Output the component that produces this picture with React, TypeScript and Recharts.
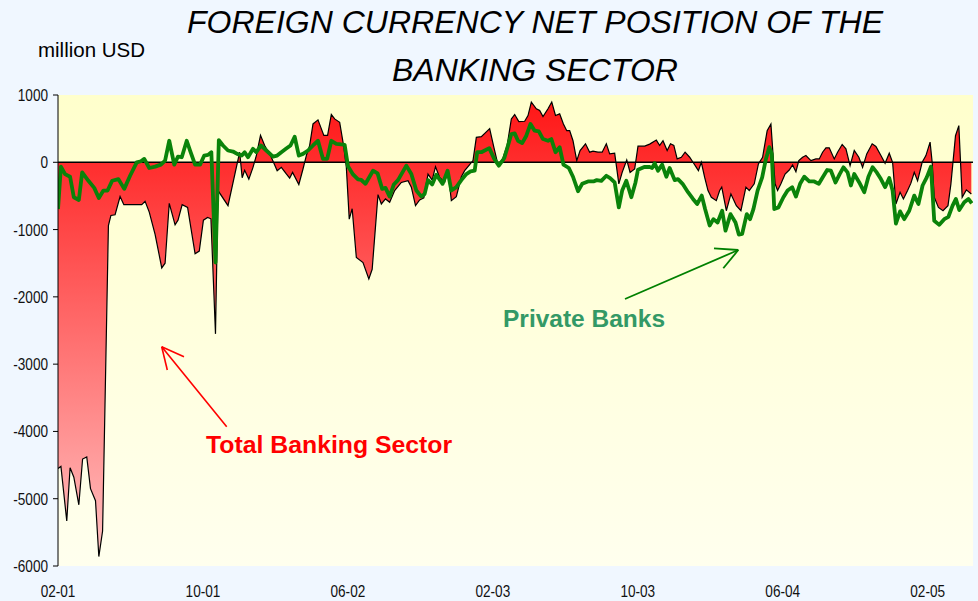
import React from "react";
import {
    ComposedChart,
    Area,
    Line,
    XAxis,
    YAxis,
    CartesianGrid,
    ReferenceLine,
} from "recharts";

// x values are weeks counted from the start of Feb 2001
const tickWeeks = [0, 34.79, 69.57, 104.36, 139.15, 173.93, 208.72];
const tickLabels = ["02-01", "10-01", "06-02", "02-03", "10-03", "06-04", "02-05"];
const yTicks = [1000, 0, -1000, -2000, -3000, -4000, -5000, -6000];

// Total banking sector (million USD)
const totalWeeks = [
    0, 0.7, 2.1, 2.9, 3.8, 5.0, 5.9, 6.9, 7.8, 9.0, 9.8, 10.7, 12.1, 12.7, 13.7, 14.9, 15.8, 20.1, 20.9, 21.9,
    23.3, 24.9, 25.7, 26.7, 28.1, 28.8, 29.8, 31.1, 32.9, 33.9, 34.9, 35.9, 36.7, 37.8, 38.4, 40.8, 43.6, 44.2, 44.8, 45.8,
    46.8, 47.6, 48.6, 49.6, 51.2, 52.6, 53.6, 54.7, 55.6, 56.3, 57.8, 58.8, 59.6, 60.4, 61.2, 62.4, 63.8, 64.7, 65.6, 66.4,
    67.6, 68.6, 69.2, 69.9, 70.6, 71.6, 73.2, 74.6, 75.4, 76.8, 77.6, 78.6, 79.6, 80.8, 82.4, 84.0, 84.8, 85.8, 86.8, 87.8,
    88.8, 89.8, 90.6, 91.6, 92.8, 93.6, 94.4, 95.6, 96.8, 97.6, 98.8, 99.6, 100.4, 101.6, 103.6, 104.6, 105.6, 106.7, 107.8, 108.8,
    109.6, 110.6, 112.0, 112.8, 113.6, 114.8, 115.6, 116.4, 117.6, 118.5, 119.4, 120.4, 121.3, 122.1, 122.8, 123.6, 124.5, 125.3, 126.6, 127.6,
    128.4, 129.6, 130.6, 131.6, 132.4, 133.6, 134.6, 135.4, 136.5, 137.3, 138.4, 139.2, 140.8, 142.0, 143.6, 144.4, 145.2, 146.2, 147.0, 147.8,
    148.6, 149.6, 150.5, 151.6, 152.4, 153.2, 153.7, 154.4, 155.2, 156.0, 156.8, 158.0, 158.8, 159.3, 160.4, 161.5, 162.8, 163.9, 165.1, 165.9,
    167.1, 168.1, 169.1, 170.2, 171.1, 172.1, 172.7, 173.5, 174.5, 175.5, 176.3, 177.1, 177.8, 178.7, 179.5, 180.7, 181.9, 182.7, 183.5, 184.3,
    185.1, 186.3, 187.1, 188.2, 189.1, 190.1, 191.1, 192.2, 193.1, 194.1, 195.4, 196.3, 197.5, 198.5, 199.5, 200.3, 201.1, 202.1, 202.9, 203.9,
    204.7, 205.5, 206.3, 207.4, 208.3, 209.3, 209.8, 210.3, 211.3, 212.4, 213.6, 214.3, 215.4, 216.2, 217.0, 218.0, 219.2,
];
const totalValues = [
    -4550, -4520, -5330, -4540, -4680, -5090, -4410, -4380, -4850, -5030, -5860, -5480, -940, -790, -780, -510, -630, -630, -580, -740,
    -1070, -1570, -1500, -610, -930, -860, -630, -670, -1360, -1320, -860, -820, -840, -2550, -420, -645, 150, -230, -120, -250,
    -75, 100, 400, 250, 75, -125, -75, -165, -235, -150, -330, -100, 100, 250, 570, 630, 400, 400, 710, 645,
    595, 225, -75, -845, -690, -1415, -1490, -1735, -1590, -480, -620, -545, -595, -420, -300, -275, -370, -645, -560, -530,
    -175, -265, -65, -225, -300, -125, -570, -510, -215, -125, -35, 25, 370, 380, 500, 225, -40, 50, 250, 645,
    710, 605, 610, 695, 895, 795, 770, 680, 795, 895, 695, 720, 570, 470, 470, 320, 25, 175, 275, 150,
    165, 150, 150, 275, 125, 135, -320, -150, 35, -150, -100, 240, 240, 270, 330, 250, 320, 175, 275, 250,
    50, 75, 150, 75, 0, -75, -125, 0, -225, -420, -520, -570, -420, -370, -720, -470, -645, -720, -370, -420,
    -320, -25, 75, 470, 570, -320, -420, -320, -175, -115, -40, -140, 25, 75, 100, 25, 50, 50, 150, 215,
    215, 50, 150, 265, 200, -50, 175, 75, -75, 125, 275, 235, 100, -15, 135, 0, -620, -445, -545, -420,
    -310, -150, -275, 0, 100, 300, 0, -520, -670, -720, -645, -320, 395, 545, -520, -410, -470,
];

// Private banks (million USD)
const privWeeks = [
    0, 0.7, 1.7, 2.9, 3.8, 5.0, 5.8, 7.3, 8.7, 9.8, 10.9, 11.9, 13.0, 14.5, 15.9, 17.3, 18.9, 19.9, 20.7, 21.9,
    23.3, 24.7, 25.7, 26.7, 27.9, 28.8, 29.7, 30.9, 31.7, 32.9, 34.1, 35.1, 36.0, 36.8, 37.8, 38.6, 39.6, 40.8, 42.0, 43.0,
    44.1, 44.8, 45.6, 46.8, 47.6, 48.7, 50.0, 51.6, 52.6, 53.6, 54.7, 55.8, 56.8, 57.8, 58.8, 60.0, 61.2, 62.4, 63.6, 64.6,
    65.6, 66.8, 68.0, 68.8, 69.6, 70.8, 72.0, 72.8, 73.8, 75.6, 76.7, 77.8, 78.6, 79.6, 80.6, 81.6, 83.6, 84.8, 86.0, 87.2,
    88.0, 88.8, 89.8, 90.8, 92.3, 93.5, 94.4, 95.6, 96.8, 98.0, 99.0, 100.0, 100.6, 101.6, 103.5, 104.7, 105.8, 107.1, 108.0, 108.8,
    109.6, 110.4, 111.4, 112.4, 113.4, 114.4, 115.4, 116.4, 117.6, 118.4, 119.4, 120.4, 121.3, 122.6, 123.6, 124.8, 125.8, 127.2, 128.5, 129.3,
    130.4, 131.6, 132.5, 133.6, 134.6, 135.4, 136.4, 137.6, 138.6, 139.2, 140.7, 142.0, 142.6, 143.2, 144.0, 145.0, 146.0, 146.8, 148.0, 148.8,
    149.9, 151.2, 152.4, 153.4, 154.5, 155.3, 156.4, 157.3, 158.3, 159.4, 160.2, 161.4, 162.6, 163.4, 164.2, 165.3, 166.1, 166.9, 167.9, 169.0,
    169.9, 170.7, 171.3, 171.9, 172.9, 174.1, 175.1, 176.2, 177.1, 178.1, 179.1, 180.3, 181.5, 182.6, 183.5, 184.6, 185.5, 186.6, 187.6, 188.5,
    189.5, 190.3, 191.1, 192.3, 193.5, 194.5, 195.5, 196.5, 197.5, 198.5, 199.5, 200.3, 201.1, 202.1, 203.1, 204.3, 205.5, 206.5, 207.5, 208.5,
    209.5, 210.3, 211.5, 212.7, 213.7, 214.7, 215.5, 216.3, 217.5, 218.5, 219.3,
];
const privValues = [
    -695, -65, -175, -215, -520, -560, -150, -275, -380, -530, -420, -420, -275, -250, -395, -200, 0, 15, 50, -85,
    -65, -35, 25, 320, -35, 85, 75, 320, 175, -35, -35, 100, 110, 150, -1490, 330, 250, 175, 160, 125,
    100, 150, 75, 200, 150, 250, 175, 85, 100, 150, 200, 250, 380, 100, 125, 175, 250, 320, 50, 50,
    320, 275, 265, 260, -60, -180, -255, -263, -320, -125, -165, -395, -380, -510, -330, -265, -50, -175, -420, -510,
    -470, -265, -330, -185, -320, -125, -420, -370, -265, -175, -135, -125, 150, 150, 210, 50, -50, 60, 250, 420,
    430, 320, 285, 395, 570, 470, 460, 345, 320, 345, 150, 225, -35, -85, -215, -430, -320, -285, -285, -265,
    -275, -200, -235, -300, -670, -420, -275, -520, -300, -110, -70, -70, -84, -15, -125, -35, -215, -85, -265, -250,
    -320, -445, -545, -620, -495, -695, -940, -845, -895, -720, -1015, -770, -895, -1075, -1065, -770, -845, -695, -420, -225,
    50, 225, 125, -695, -670, -520, -420, -370, -510, -320, -215, -285, -285, -320, -225, -115, -125, -300, -175, -75,
    -150, -345, -175, -300, -445, -215, -75, -150, -250, -370, -235, -420, -910, -730, -845, -720, -495, -620, -345, -225,
    -65, -870, -930, -845, -810, -645, -545, -710, -595, -545, -610,
];

const totalData = totalWeeks.map((w, i) => ({ w, total: totalValues[i] }));
const privData = privWeeks.map((w, i) => ({ w, priv: privValues[i] }));

const tickFont = "'Liberation Sans', Arial, sans-serif";

const XTick = (props: any) => {
    const { x, y, payload } = props;
    const i = tickWeeks.findIndex((t) => Math.abs(t - payload.value) < 0.01);
    return (
        <text
            transform={`translate(${x},${y + 31}) scale(0.8,1)`}
            textAnchor="middle"
            fontSize={17}
            fontFamily={tickFont}
            fill="#111"
        >
            {tickLabels[i]}
        </text>
    );
};

const YTick = (props: any) => {
    const { x, y, payload } = props;
    return (
        <text
            transform={`translate(${x},${y}) scale(0.8,1)`}
            textAnchor="end"
            dy="0.35em"
            fontSize={17}
            fontFamily={tickFont}
            fill="#111"
        >
            {payload.value}
        </text>
    );
};

export default function App() {
    return (
        <div
            style={{
                position: "absolute",
                left: 0,
                top: 0,
                width: 978,
                height: 601,
                background: "#F0F7FF",
                overflow: "hidden",
            }}
        >
            <ComposedChart width={978} height={601} margin={{ top: 95, right: 5, bottom: 0, left: 0 }}>
                <defs>
                    <linearGradient id="plotBg" x1="0" y1="0" x2="0" y2="1">
                        <stop offset="0%" stopColor="#FFFFCC" />
                        <stop offset="100%" stopColor="#FFFFEE" />
                    </linearGradient>
                    <linearGradient id="redFill" gradientUnits="userSpaceOnUse" x1="0" y1="95" x2="0" y2="566">
                        <stop offset="0%" stopColor="#FF1414" />
                        <stop offset="100%" stopColor="#FFC4C4" />
                    </linearGradient>
                </defs>
                <CartesianGrid horizontal={false} vertical={false} fill="url(#plotBg)" />
                <XAxis
                    type="number"
                    dataKey="w"
                    domain={[0, 219.6]}
                    ticks={tickWeeks}
                    allowDataOverflow
                    axisLine={false}
                    tickLine={false}
                    tickSize={0}
                    tickMargin={0}
                    height={35}
                    tick={<XTick />}
                    interval={0}
                />
                <YAxis
                    type="number"
                    domain={[-6000, 1000]}
                    ticks={yTicks}
                    allowDataOverflow
                    width={58}
                    axisLine={{ stroke: "#000", strokeWidth: 1 }}
                    tickLine={{ stroke: "#000", strokeWidth: 1 }}
                    tickSize={5}
                    tickMargin={5}
                    tick={<YTick />}
                    interval={0}
                />
                <Area
                    data={totalData}
                    dataKey="total"
                    type="linear"
                    baseValue={0}
                    stroke="#000"
                    strokeWidth={1.2}
                    fill="url(#redFill)"
                    fillOpacity={1}
                    dot={false}
                    activeDot={false}
                    isAnimationActive={false}
                />
                <ReferenceLine y={0} stroke="#000" strokeWidth={1.6} />
                <Line
                    data={privData}
                    dataKey="priv"
                    type="linear"
                    stroke="#0A830A"
                    strokeWidth={3.8}
                    strokeLinejoin="round"
                    dot={false}
                    activeDot={false}
                    isAnimationActive={false}
                />
            </ComposedChart>

            {/* title, unit label and annotations */}
            <svg
                width={978}
                height={601}
                style={{ position: "absolute", left: 0, top: 0, pointerEvents: "none" }}
            >
                <g fontFamily="'Liberation Sans', Arial, sans-serif">
                    <text x={535} y={33} textAnchor="middle" fontSize={32} fontStyle="italic" fill="#000"
                        textLength={696} lengthAdjust="spacingAndGlyphs">
                        FOREIGN CURRENCY NET POSITION OF THE
                    </text>
                    <text x={535} y={81} textAnchor="middle" fontSize={32} fontStyle="italic" fill="#000"
                        textLength={286} lengthAdjust="spacingAndGlyphs">
                        BANKING SECTOR
                    </text>
                    <text x={38} y={57} fontSize={19.5} fill="#000" textLength={107} lengthAdjust="spacingAndGlyphs">
                        million USD
                    </text>

                    <text x={206} y={453} fontSize={24.8} fontWeight="bold" fill="#FF0000">
                        Total Banking Sector
                    </text>
                    <line x1={226.7} y1={426.7} x2={161.7} y2={346.7} stroke="#FF0000" strokeWidth={1.6} />
                    <line x1={161.7} y1={346.7} x2={184} y2={356.7} stroke="#FF0000" strokeWidth={1.6} />
                    <line x1={161.7} y1={346.7} x2={167.3} y2={370} stroke="#FF0000" strokeWidth={1.6} />

                    <text x={503} y={327} fontSize={24.5} fontWeight="bold" fill="#339966">
                        Private Banks
                    </text>
                    <line x1={625} y1={299} x2={738.3} y2={250} stroke="#008000" strokeWidth={1.8} />
                    <line x1={738.3} y1={250} x2={714} y2={248.3} stroke="#008000" strokeWidth={1.8} />
                    <line x1={738.3} y1={250} x2={723.3} y2={268.3} stroke="#008000" strokeWidth={1.8} />
                </g>
            </svg>
        </div>
    );
}
